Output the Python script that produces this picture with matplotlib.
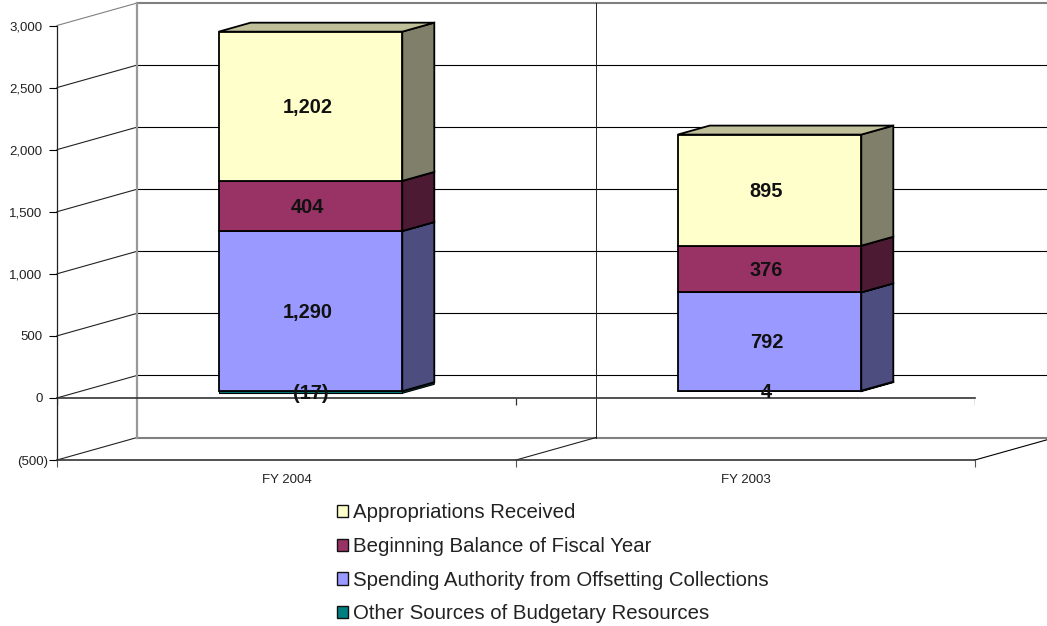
#!/usr/bin/env python3
"""Budgetary resources by fiscal year, stacked bars drawn with an Excel style 3D box look."""

import matplotlib
matplotlib.use('Agg')
import matplotlib.pyplot as plt
from matplotlib.patches import Patch, Polygon
from matplotlib.ticker import FuncFormatter
from matplotlib.transforms import ScaledTranslation


categories = ['FY 2004', 'FY 2003']
series_names = [
    'Appropriations Received',
    'Beginning Balance of Fiscal Year',
    'Spending Authority from Offsetting Collections',
    'Other Sources of Budgetary Resources',
]
appropriations = [1202, 895]
beginning_balance = [404, 376]
spending_authority = [1290, 792]
other_sources = [-17, 4]

y_ticks = [-500, 0, 500, 1000, 1500, 2000, 2500, 3000]

# front, side and top face colours per series
face_colors = ['#FFFFCC', '#993366', '#9999FF', '#008080']
side_colors = ['#80806A', '#4D1A33', '#4D4D80', '#004040']
top_colors = ['#BFBF99', '#73264D', '#7373BF', '#006060']

# depth of the chart box, in data units
DEPTH_X = 80 / 459
DEPTH_Y = 22.5 / 0.1243
BAR_WIDTH = 0.4
BAR_NEAR = 0.3
BAR_FAR = 0.7


def project(x, v, d):
    """Shift a data point d (0..1) into the depth of the chart box."""
    return x + d * DEPTH_X, v + d * DEPTH_Y


def depth_line(ax, x, v, **kwargs):
    x0, v0 = project(x, v, 0)
    x1, v1 = project(x, v, 1)
    ax.plot([x0, x1], [v0, v1], clip_on=False, **kwargs)


def draw_box(ax, center, bottom, top, i, lw=1.3):
    """Draw one stacked segment as a box: side, top, then front."""
    left = center - BAR_WIDTH / 2
    right = center + BAR_WIDTH / 2
    low, high = min(bottom, top), max(bottom, top)
    side = [project(right, low, BAR_NEAR), project(right, low, BAR_FAR),
            project(right, high, BAR_FAR), project(right, high, BAR_NEAR)]
    lid = [project(left, high, BAR_NEAR), project(left, high, BAR_FAR),
           project(right, high, BAR_FAR), project(right, high, BAR_NEAR)]
    ax.add_patch(Polygon(side, closed=True, facecolor=side_colors[i], edgecolor='black',
                         linewidth=lw, zorder=3, clip_on=False))
    ax.add_patch(Polygon(lid, closed=True, facecolor=top_colors[i], edgecolor='black',
                         linewidth=lw, zorder=3, clip_on=False))
    fx, fv = project(center, low, BAR_NEAR)
    ax.bar(fx, high - low, width=BAR_WIDTH, bottom=fv, color=face_colors[i],
           edgecolor='black', linewidth=lw, zorder=4, clip_on=False)


def value_label(value):
    return f'({abs(value):,})' if value < 0 else f'{value:,}'


fig = plt.figure(figsize=(10.47, 6.26), dpi=100)
plt.rcParams['font.family'] = ['Liberation Sans', 'DejaVu Sans']
ax = fig.add_axes([57 / 1047, (626 - 460) / 626, 918 / 1047, 434.5 / 626])
ax.set_xlim(0, 2)
ax.set_ylim(-500, 3000)
ax.patch.set_visible(False)

for name in ['top', 'right']:
    ax.spines[name].set_visible(False)
ax.spines['left'].set_linewidth(0.9)
ax.spines['left'].set_color('#222222')
ax.spines['bottom'].set_linewidth(1.2)
ax.spines['bottom'].set_color('#333333')

ax.set_yticks(y_ticks)
ax.yaxis.set_major_formatter(FuncFormatter(lambda v, _: value_label(int(v))))
ax.tick_params(axis='y', length=5.8, width=0.8, pad=4.5, labelsize=9.5, labelcolor='#222222')
ax.set_xticks([0, 1, 2])
ax.set_xticklabels([])
ax.set_xticks([0.5, 1.5], minor=True)
ax.set_xticklabels(categories, minor=True)
ax.tick_params(axis='x', which='major', length=5, width=0.8, color='#555555')
ax.tick_params(axis='x', which='minor', length=0, pad=9.9, labelsize=9.5, labelcolor='#222222')

# the negative tick label sits closer to the axis
low_label = ax.get_yticklabels()[0]
low_label.set_transform(low_label.get_transform() + ScaledTranslation(3.6 / 72, 0, fig.dpi_scale_trans))

# back wall and floor
for v in y_ticks:
    wall = v in (-500, 3000)
    color = '#808080' if wall else 'black'
    lw = 1.5 if wall else 0.8
    x0, b0 = project(0, v, 1)
    x1, b1 = project(2, v, 1)
    ax.plot([x0, x1], [b0, b1], color=color, linewidth=lw, clip_on=False, zorder=1)
    depth_line(ax, 0, v, color='#808080' if v == 3000 else '#222222', linewidth=0.8, zorder=1)

x_left, v_low = project(0, -500, 1)
x_mid, _ = project(1, -500, 1)
_, v_high = project(0, 3000, 1)
ax.plot([x_left, x_left], [v_low, v_high], color='#999999', linewidth=1.6, clip_on=False, zorder=1)
ax.plot([x_mid, x_mid], [v_low, v_high], color='#222222', linewidth=0.7, clip_on=False, zorder=1)
depth_line(ax, 1, -500, color='#222222', linewidth=0.8, zorder=1)
depth_line(ax, 2, -500, color='black', linewidth=0.8, zorder=1)

# zero line with its own ticks
ax.plot([0, 2], [0, 0], color='#333333', linewidth=1.2, clip_on=False, zorder=2)
ax.vlines([0, 1, 2], -56, 0, color='#333333', linewidth=0.9, zorder=2)

# stacked segments, drawn bottom to top
for c in range(len(categories)):
    center = c + 0.5
    other = other_sources[c]
    base = max(other, 0)
    draw_box(ax, center, 0, other, 3, lw=0.8 if other < 0 else 1.3)
    stack = [(spending_authority[c], 2), (beginning_balance[c], 1), (appropriations[c], 0)]
    for value, i in stack:
        draw_box(ax, center, base, base + value, i)
        lx, lv = project(center, base + value / 2, BAR_NEAR)
        ax.annotate(value_label(value), (lx, lv), xytext=(-2.2, -1), textcoords='offset points',
                    ha='center', va='center', fontsize=14.4, fontweight='bold',
                    color='#111111', zorder=6)
        base += value
    lx, lv = project(center, other / 2, BAR_NEAR)
    ax.annotate(value_label(other), (lx, lv), xytext=(-2.2 if other > 0 else 0, -1),
                textcoords='offset points', ha='center', va='center', fontsize=14.4,
                fontweight='bold', color='#111111', zorder=6)

handles = [Patch(facecolor=face_colors[i], edgecolor='#111111', linewidth=1.0)
           for i in range(len(series_names))]
fig.legend(handles, series_names, loc='upper left', bbox_to_anchor=(318.6 / 1047, 1 - 485 / 626),
           frameon=False, fontsize=14.7, labelspacing=0.716, handlelength=0.55, handleheight=0.55,
           handletextpad=0.25, labelcolor='#222222')

fig.savefig('out.png', dpi=100)
